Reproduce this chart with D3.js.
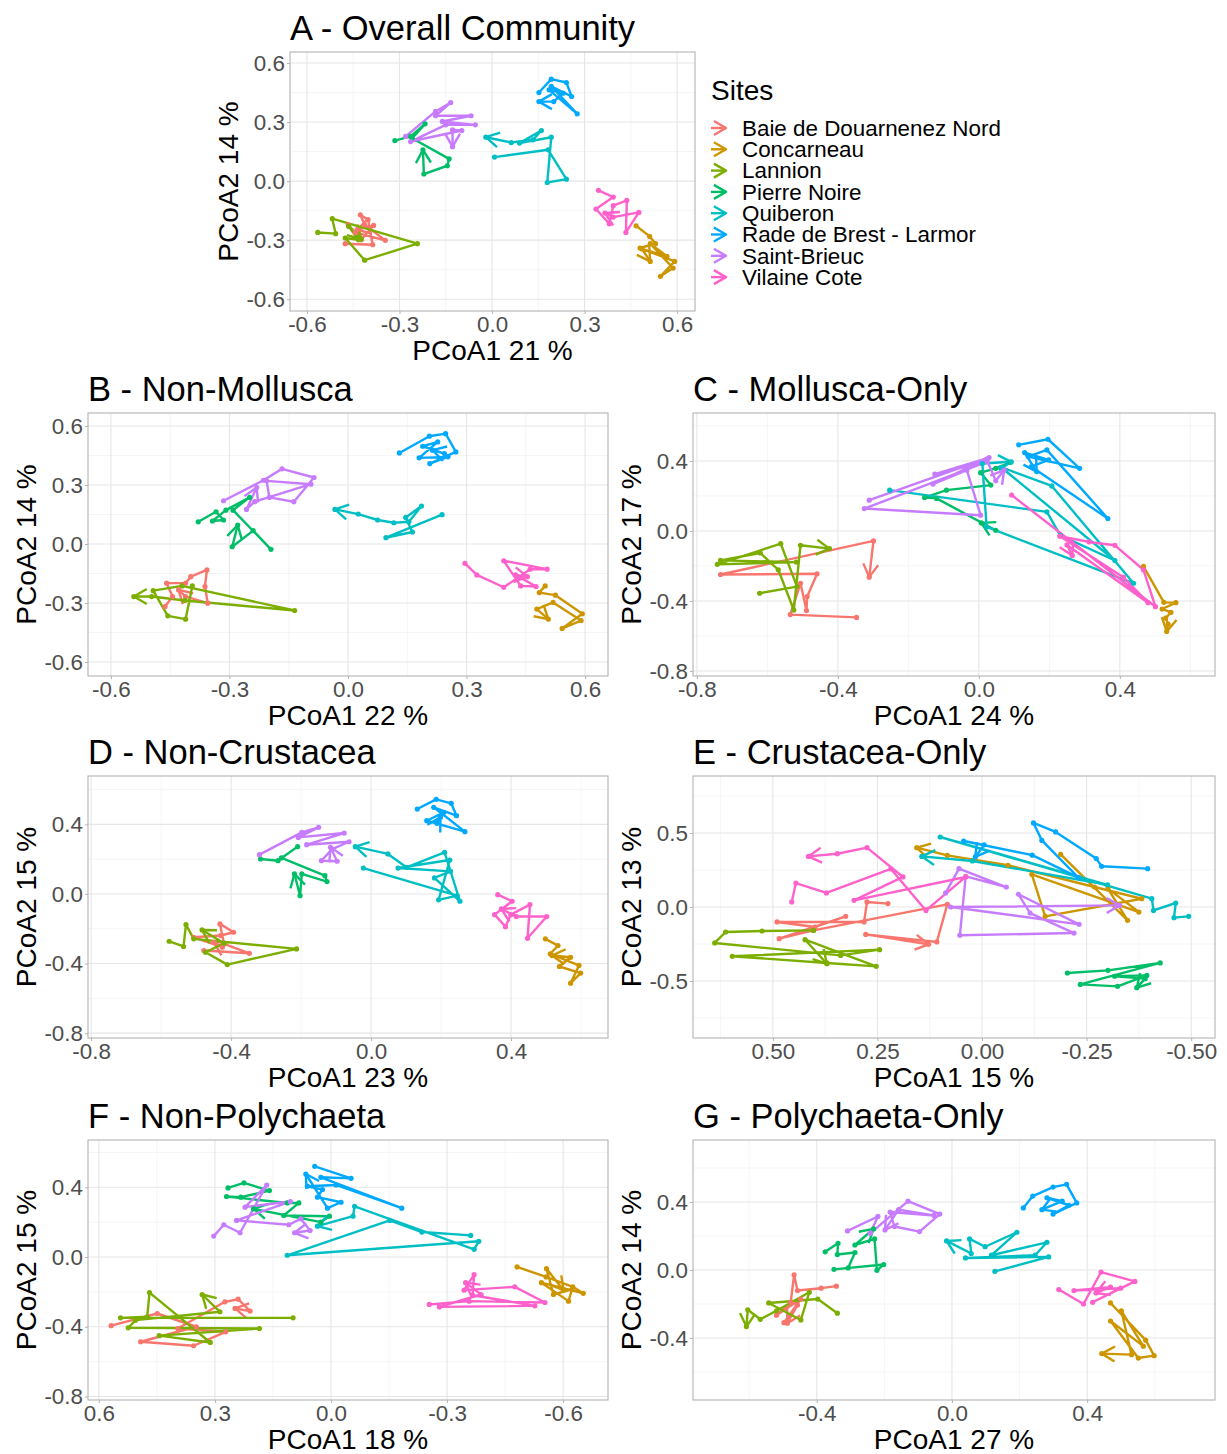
<!DOCTYPE html>
<html lang="en">
<head>
<meta charset="UTF-8">
<title>PCoA trajectories by site</title>
<script src="https://d3js.org/d3.v7.min.js"></script>
<style>
  body { margin: 0; background: #fff; }
  svg { display: block; font-family: "Liberation Sans", Arial, sans-serif; }
  .tick text { fill: #4D4D4D; font-size: 22.4px; font-family: "Liberation Sans", Arial, sans-serif; }
  .tick line { stroke: #B3B3B3; }
  .axis-title { fill: #000; font-size: 28px; }
  .panel-title { fill: #000; font-size: 34.5px; }
  .legend-text { fill: #000; font-size: 22.4px; }
</style>
</head>
<body>
<div id="chart"></div>
<script>
// sites and ggplot hue colours
const sites = ["Baie de Douarnenez Nord", "Concarneau", "Lannion", "Pierre Noire",
               "Quiberon", "Rade de Brest - Larmor", "Saint-Brieuc", "Vilaine Cote"];
const siteColors = ["#F8766D", "#CD9600", "#7CAE00", "#00BE67", "#00BFC4", "#00A9FF", "#C77CFF", "#FF61CC"];

const panelTitles = ["A - Overall Community", "B - Non-Mollusca", "C - Mollusca-Only", "D - Non-Crustacea",
                     "E - Crustacea-Only", "F - Non-Polychaeta", "G - Polychaeta-Only"];
const xLabels = ["PCoA1 21 %", "PCoA1 22 %", "PCoA1 24 %", "PCoA1 23 %", "PCoA1 15 %", "PCoA1 18 %", "PCoA1 27 %"];
const yLabels = ["PCoA2 14 %", "PCoA2 14 %", "PCoA2 17 %", "PCoA2 15 %", "PCoA2 13 %", "PCoA2 15 %", "PCoA2 14 %"];

// tick values per panel (A..G)
const xTickVals = [[-0.6, -0.3, 0, 0.3, 0.6], [-0.6, -0.3, 0, 0.3, 0.6], [-0.8, -0.4, 0, 0.4], [-0.8, -0.4, 0, 0.4],
                   [0.5, 0.25, 0, -0.25, -0.5], [0.6, 0.3, 0, -0.3, -0.6], [-0.4, 0, 0.4]];
const yTickVals = [[-0.6, -0.3, 0, 0.3, 0.6], [-0.6, -0.3, 0, 0.3, 0.6], [-0.8, -0.4, 0, 0.4], [-0.8, -0.4, 0, 0.4],
                   [-0.5, 0, 0.5], [-0.8, -0.4, 0, 0.4], [-0.4, 0, 0.4]];

// trajectories [PCoA1, PCoA2], one list per site in the order of `sites`
const trajA = [
  [[-0.476,-0.318],[-0.387,-0.323],[-0.402,-0.196],[-0.427,-0.171],[-0.413,-0.222],[-0.346,-0.301],[-0.443,-0.261],[-0.466,-0.222],[-0.424,-0.298],[-0.384,-0.225],[-0.437,-0.247]],
  [[0.467,-0.227],[0.511,-0.281],[0.530,-0.318],[0.480,-0.340],[0.592,-0.408],[0.546,-0.484],[0.587,-0.442],[0.513,-0.318],[0.567,-0.382],[0.486,-0.345],[0.513,-0.408]],
  [[-0.565,-0.261],[-0.507,-0.267],[-0.518,-0.191],[-0.242,-0.318],[-0.413,-0.402],[-0.476,-0.289],[-0.433,-0.298],[-0.465,-0.230],[-0.424,-0.294]],
  [[-0.315,0.206],[-0.264,0.227],[-0.217,0.291],[-0.259,0.218],[-0.139,0.113],[-0.145,0.078],[-0.221,0.036],[-0.224,0.159]],
  [[0.008,0.122],[0.182,0.159],[0.241,0.010],[0.179,-0.007],[0.192,0.223],[0.089,0.193],[0.160,0.257],[0.133,0.210],[0.062,0.196],[-0.020,0.223]],
  [[0.152,0.450],[0.192,0.518],[0.241,0.501],[0.258,0.430],[0.192,0.481],[0.276,0.342],[0.185,0.464],[0.230,0.447],[0.200,0.404],[0.152,0.404]],
  [[-0.280,0.227],[-0.183,0.354],[-0.134,0.399],[-0.183,0.332],[-0.068,0.332],[-0.161,0.303],[-0.054,0.286],[-0.150,0.286],[-0.264,0.201],[-0.098,0.257],[-0.128,0.260],[-0.128,0.175]],
  [[0.345,-0.047],[0.393,-0.081],[0.337,-0.142],[0.380,-0.217],[0.393,-0.125],[0.437,-0.098],[0.434,-0.261],[0.476,-0.159],[0.393,-0.183],[0.366,-0.162]]
];
const trajB = [
  [[-0.463,-0.318],[-0.444,-0.267],[-0.459,-0.199],[-0.411,-0.199],[-0.398,-0.166],[-0.357,-0.132],[-0.362,-0.216],[-0.355,-0.301],[-0.411,-0.267],[-0.429,-0.233]],
  [[0.499,-0.213],[0.484,-0.247],[0.525,-0.260],[0.593,-0.355],[0.542,-0.429],[0.590,-0.389],[0.519,-0.297],[0.478,-0.331],[0.507,-0.382]],
  [[-0.394,-0.213],[-0.411,-0.382],[-0.456,-0.365],[-0.493,-0.237],[-0.420,-0.213],[-0.135,-0.338],[-0.413,-0.287],[-0.497,-0.267],[-0.542,-0.267]],
  [[-0.379,0.113],[-0.334,0.164],[-0.315,0.122],[-0.343,0.117],[-0.309,0.172],[-0.249,0.237],[-0.291,0.172],[-0.195,-0.027],[-0.240,0.068],[-0.293,-0.014],[-0.279,0.096]],
  [[0.238,0.149],[0.096,0.032],[0.163,0.061],[0.146,0.135],[0.186,0.193],[0.154,0.113],[0.116,0.108],[0.075,0.122],[0.026,0.152],[-0.033,0.176]],
  [[0.130,0.463],[0.206,0.548],[0.247,0.561],[0.273,0.468],[0.207,0.409],[0.253,0.443],[0.180,0.438],[0.227,0.519],[0.189,0.497],[0.244,0.460],[0.214,0.477]],
  [[-0.315,0.220],[-0.214,0.324],[-0.167,0.382],[-0.086,0.338],[-0.137,0.215],[-0.199,0.237],[-0.206,0.321],[-0.094,0.304],[-0.236,0.215],[-0.257,0.176],[-0.231,0.287]],
  [[0.296,-0.098],[0.326,-0.157],[0.394,-0.220],[0.461,-0.128],[0.504,-0.128],[0.394,-0.085],[0.437,-0.213],[0.476,-0.216],[0.424,-0.157],[0.454,-0.166]]
];
const trajC = [
  [[-0.347,-0.494],[-0.535,-0.478],[-0.506,-0.299],[-0.489,-0.455],[-0.487,-0.375],[-0.459,-0.245],[-0.733,-0.249],[-0.299,-0.057],[-0.311,-0.264]],
  [[0.467,-0.203],[0.525,-0.408],[0.559,-0.410],[0.520,-0.446],[0.545,-0.465],[0.530,-0.498],[0.537,-0.532],[0.533,-0.574]],
  [[-0.622,-0.356],[-0.516,-0.318],[-0.562,-0.073],[-0.742,-0.191],[-0.518,-0.178],[-0.733,-0.168],[-0.620,-0.126],[-0.569,-0.222],[-0.525,-0.452],[-0.506,-0.082],[-0.424,-0.101]],
  [[0.090,0.392],[0.048,0.358],[0.005,0.333],[0.034,0.262],[-0.092,0.233],[-0.154,0.191],[-0.120,0.186],[0.048,0.004],[0.007,0.046]],
  [[-0.253,0.233],[0.193,0.109],[0.231,-0.025],[0.386,-0.169],[0.063,0.364],[0.207,0.257],[0.439,-0.299],[0.022,0.023],[0.010,0.385],[0.092,0.395]],
  [[0.113,0.492],[0.196,0.524],[0.286,0.358],[0.140,0.425],[0.193,0.463],[0.366,0.071],[0.149,0.367],[0.198,0.406],[0.130,0.448],[0.164,0.339]],
  [[-0.311,0.176],[0.029,0.419],[-0.125,0.325],[0.024,0.396],[-0.325,0.128],[0.005,0.090],[-0.034,0.348],[-0.130,0.268],[0.022,0.410],[0.048,0.287],[0.072,0.348]],
  [[0.093,0.205],[0.501,-0.433],[0.467,-0.222],[0.386,-0.082],[0.313,-0.063],[0.230,-0.030],[0.410,-0.264],[0.480,-0.410],[0.250,-0.080],[0.265,-0.140]]
];
const trajD = [
  [[-0.478,-0.325],[-0.348,-0.341],[-0.420,-0.287],[-0.432,-0.172],[-0.393,-0.220],[-0.430,-0.239],[-0.507,-0.249],[-0.425,-0.306],[-0.449,-0.278]],
  [[0.498,-0.258],[0.534,-0.297],[0.512,-0.344],[0.594,-0.411],[0.570,-0.513],[0.599,-0.455],[0.538,-0.417],[0.570,-0.364],[0.517,-0.354]],
  [[-0.577,-0.272],[-0.536,-0.302],[-0.529,-0.176],[-0.507,-0.258],[-0.213,-0.316],[-0.411,-0.406],[-0.473,-0.335],[-0.420,-0.283],[-0.483,-0.207]],
  [[-0.316,0.201],[-0.266,0.191],[-0.210,0.272],[-0.256,0.207],[-0.132,0.105],[-0.126,0.071],[-0.198,0.115],[-0.203,-0.010],[-0.219,0.115]],
  [[-0.022,0.149],[0.246,-0.010],[0.193,-0.034],[0.225,0.195],[0.077,0.149],[0.227,0.130],[0.181,0.092],[0.254,-0.042],[0.210,0.239],[0.101,0.153],[0.048,0.230],[-0.045,0.272]],
  [[0.132,0.488],[0.186,0.544],[0.229,0.521],[0.244,0.450],[0.179,0.498],[0.268,0.358],[0.159,0.421],[0.208,0.469],[0.188,0.406],[0.198,0.440]],
  [[-0.319,0.226],[-0.198,0.354],[-0.150,0.383],[-0.208,0.325],[-0.077,0.350],[-0.184,0.283],[-0.063,0.300],[-0.111,0.258],[-0.142,0.191],[-0.097,0.188],[-0.116,0.268]],
  [[0.362,-0.004],[0.403,-0.042],[0.353,-0.119],[0.384,-0.188],[0.399,-0.119],[0.454,-0.061],[0.447,-0.255],[0.502,-0.130],[0.415,-0.130],[0.372,-0.086]]
];
const trajE = [
  [[0.225,0.023],[0.275,0.034],[0.282,-0.101],[0.490,-0.101],[0.399,-0.135],[0.326,-0.063],[0.485,-0.214],[0.403,-0.158],[0.083,0.018],[0.108,-0.236],[0.278,-0.185],[0.128,-0.252]],
  [[-0.188,0.356],[-0.348,-0.090],[-0.301,0.124],[-0.375,-0.034],[-0.119,0.221],[-0.151,-0.063],[-0.382,0.056],[-0.269,0.135],[-0.062,0.282],[0.083,0.349],[0.156,0.401]],
  [[0.403,-0.158],[0.526,-0.162],[0.613,-0.169],[0.639,-0.243],[0.338,-0.327],[0.245,-0.288],[0.597,-0.333],[0.371,-0.378],[0.253,-0.401],[0.423,-0.221],[0.371,-0.383]],
  [[-0.204,-0.446],[-0.301,-0.428],[-0.426,-0.378],[-0.235,-0.523],[-0.324,-0.536],[-0.394,-0.462],[-0.317,-0.468],[-0.390,-0.484],[-0.370,-0.545]],
  [[-0.494,-0.063],[-0.459,-0.072],[-0.463,0.027],[-0.410,-0.023],[-0.406,0.056],[0.100,0.473],[-0.300,0.150],[0.023,0.311],[0.144,0.342]],
  [[-0.396,0.259],[-0.286,0.275],[-0.273,0.327],[-0.176,0.507],[-0.123,0.568],[-0.143,0.450],[-0.230,0.200],[-0.120,0.350],[0.044,0.446],[-0.005,0.420],[0.016,0.338]],
  [[0.087,0.095],[0.055,0.259],[-0.058,0.135],[0.039,0.207],[0.053,-0.191],[-0.220,-0.176],[-0.115,-0.041],[-0.087,0.086],[-0.232,-0.117],[0.075,0.000],[-0.329,0.011]],
  [[0.455,0.034],[0.445,0.162],[0.372,0.095],[0.218,0.257],[0.134,-0.023],[0.039,0.203],[0.306,0.045],[0.189,0.203],[0.275,0.401],[0.346,0.360],[0.415,0.342]]
];
const trajF = [
  [[0.568,-0.394],[0.449,-0.324],[0.348,-0.400],[0.492,-0.486],[0.355,-0.509],[0.272,-0.429],[0.396,-0.410],[0.274,-0.257],[0.240,-0.242],[0.209,-0.310],[0.248,-0.295]],
  [[-0.481,-0.057],[-0.556,-0.114],[-0.625,-0.171],[-0.652,-0.208],[-0.544,-0.147],[-0.614,-0.253],[-0.623,-0.185],[-0.575,-0.215],[-0.557,-0.067],[-0.601,-0.190]],
  [[0.098,-0.349],[0.544,-0.349],[0.475,-0.343],[0.469,-0.204],[0.312,-0.490],[0.444,-0.451],[0.185,-0.410],[0.524,-0.406],[0.505,-0.362],[0.287,-0.314],[0.333,-0.215]],
  [[0.266,0.396],[0.225,0.425],[0.159,0.381],[0.233,0.343],[0.270,0.347],[0.113,0.310],[0.083,0.310],[0.122,0.238],[0.004,0.234],[0.026,0.200],[0.200,0.276]],
  [[-0.361,0.124],[-0.235,0.143],[-0.152,0.210],[0.113,0.010],[-0.382,0.090],[-0.370,0.044],[-0.061,0.291],[-0.057,0.234],[0.035,0.177]],
  [[0.042,0.520],[-0.052,0.451],[0.026,0.457],[-0.183,0.280],[-0.013,0.413],[0.061,0.406],[0.022,0.387],[0.035,0.343],[-0.026,0.314],[0.009,0.280],[0.065,0.476]],
  [[0.303,0.120],[0.277,0.185],[0.235,0.139],[0.166,0.413],[0.222,0.286],[0.105,0.318],[0.244,0.210],[0.109,0.185],[0.078,0.219],[0.054,0.152],[0.094,0.139]],
  [[-0.254,-0.272],[-0.357,-0.253],[-0.553,-0.261],[-0.475,-0.171],[-0.344,-0.190],[-0.370,-0.101],[-0.366,-0.219],[-0.527,-0.280],[-0.280,-0.286],[-0.388,-0.215],[-0.348,-0.147]]
];
const trajG = [
  [[-0.342,-0.095],[-0.387,-0.107],[-0.457,-0.121],[-0.467,-0.028],[-0.477,-0.190],[-0.519,-0.266],[-0.447,-0.171],[-0.497,-0.310],[-0.457,-0.206],[-0.487,-0.313]],
  [[0.469,-0.194],[0.573,-0.413],[0.598,-0.504],[0.551,-0.518],[0.469,-0.300],[0.566,-0.448],[0.501,-0.240],[0.531,-0.498],[0.443,-0.492]],
  [[-0.339,-0.254],[-0.397,-0.171],[-0.542,-0.194],[-0.447,-0.294],[-0.422,-0.131],[-0.519,-0.240],[-0.567,-0.290],[-0.604,-0.234],[-0.608,-0.333]],
  [[-0.375,0.107],[-0.337,0.157],[-0.339,0.091],[-0.287,0.103],[-0.307,0.012],[-0.349,0.004],[-0.202,0.032],[-0.222,-0.002],[-0.229,0.183],[-0.287,0.147],[-0.232,0.242]],
  [[0.127,-0.008],[0.286,0.077],[0.040,0.071],[0.246,0.087],[0.281,0.163],[0.117,0.087],[0.192,0.222],[0.098,0.137],[0.052,0.183],[0.057,0.097],[-0.016,0.171]],
  [[0.211,0.365],[0.239,0.435],[0.299,0.488],[0.339,0.504],[0.369,0.395],[0.299,0.329],[0.346,0.381],[0.281,0.425],[0.326,0.405],[0.266,0.355]],
  [[-0.309,0.230],[-0.219,0.315],[-0.242,0.216],[-0.130,0.405],[-0.036,0.329],[-0.096,0.226],[-0.170,0.256],[-0.183,0.341],[-0.053,0.321],[-0.158,0.355],[-0.198,0.236]],
  [[0.316,-0.115],[0.389,-0.200],[0.441,-0.012],[0.541,-0.067],[0.416,-0.190],[0.499,-0.107],[0.361,-0.121],[0.469,-0.101],[0.426,-0.135]]
];

// layout: plot box [left, top, right, bottom] in px and axis limits
const panels = [
  { box: [290, 52, 695, 311],    xDomain: [-0.655, 0.658], yDomain: [-0.66, 0.656],  data: trajA, xFmt: 1 },
  { box: [88, 413, 608, 676],    xDomain: [-0.658, 0.658], yDomain: [-0.671, 0.666], data: trajB, xFmt: 1 },
  { box: [693, 413, 1215, 676],  xDomain: [-0.811, 0.67],  yDomain: [-0.829, 0.674], data: trajC, xFmt: 1 },
  { box: [88, 776, 608, 1038],   xDomain: [-0.809, 0.677], yDomain: [-0.828, 0.678], data: trajD, xFmt: 1 },
  { box: [693, 776, 1215, 1038], xDomain: [0.691, -0.557], yDomain: [-0.885, 0.885], data: trajE, xFmt: 2 },
  { box: [88, 1140, 608, 1400],  xDomain: [0.628, -0.716], yDomain: [-0.82, 0.671],  data: trajF, xFmt: 1 },
  { box: [693, 1140, 1215, 1400],xDomain: [-0.766, 0.778], yDomain: [-0.765, 0.765], data: trajG, xFmt: 1 }
];

const W = 1227, H = 1454;
const LW = 2.4;
const svg = d3.select("#chart").append("svg").attr("width", W).attr("height", H);
svg.append("rect").attr("width", W).attr("height", H).attr("fill", "#fff");

function minorTicks(major, dom) {
  const m = major.slice().sort((a, b) => a - b);
  const step = m[1] - m[0];
  const lo = Math.min(...dom), hi = Math.max(...dom);
  const out = [];
  for (let v = m[0] - step / 2; v <= m[m.length - 1] + step / 2 + 1e-9; v += step) {
    if (v >= lo && v <= hi) out.push(v);
  }
  return out;
}

function arrowHead(g, p1, p2, color, len, ang) {
  const a = Math.atan2(p2[1] - p1[1], p2[0] - p1[0]);
  const pts = [
    [p2[0] - len * Math.cos(a - ang), p2[1] - len * Math.sin(a - ang)],
    p2,
    [p2[0] - len * Math.cos(a + ang), p2[1] - len * Math.sin(a + ang)]
  ];
  g.append("path").attr("d", d3.line()(pts))
    .attr("fill", "none").attr("stroke", color).attr("stroke-width", LW)
    .attr("stroke-linejoin", "round");
}

panels.forEach((p, i) => {
  const [x0, y0, x1, y1] = p.box;
  const x = d3.scaleLinear().domain(p.xDomain).range([x0, x1]);
  const y = d3.scaleLinear().domain(p.yDomain).range([y1, y0]);
  const g = svg.append("g");

  // grid
  const grid = g.append("g");
  minorTicks(xTickVals[i], p.xDomain).forEach(v => grid.append("line")
    .attr("x1", x(v)).attr("x2", x(v)).attr("y1", y0).attr("y2", y1)
    .attr("stroke", "#F3F3F3").attr("stroke-width", 0.8));
  minorTicks(yTickVals[i], p.yDomain).forEach(v => grid.append("line")
    .attr("y1", y(v)).attr("y2", y(v)).attr("x1", x0).attr("x2", x1)
    .attr("stroke", "#F3F3F3").attr("stroke-width", 0.8));
  xTickVals[i].forEach(v => grid.append("line")
    .attr("x1", x(v)).attr("x2", x(v)).attr("y1", y0).attr("y2", y1)
    .attr("stroke", "#E6E6E6").attr("stroke-width", 1.1));
  yTickVals[i].forEach(v => grid.append("line")
    .attr("y1", y(v)).attr("y2", y(v)).attr("x1", x0).attr("x2", x1)
    .attr("stroke", "#E6E6E6").attr("stroke-width", 1.1));

  // clip to panel
  const clipId = "clip" + i;
  svg.append("clipPath").attr("id", clipId).append("rect")
    .attr("x", x0).attr("y", y0).attr("width", x1 - x0).attr("height", y1 - y0);
  const plot = g.append("g").attr("clip-path", `url(#${clipId})`);

  const line = d3.line().x(d => x(d[0])).y(d => y(d[1]));
  p.data.forEach((traj, s) => {
    plot.append("path").attr("d", line(traj))
      .attr("fill", "none").attr("stroke", siteColors[s]).attr("stroke-width", LW)
      .attr("stroke-linejoin", "round");
    const n = traj.length;
    arrowHead(plot, [x(traj[n - 2][0]), y(traj[n - 2][1])], [x(traj[n - 1][0]), y(traj[n - 1][1])],
      siteColors[s], 15, Math.PI / 6);
  });
  p.data.forEach((traj, s) => {
    plot.selectAll(null).data(traj).join("circle")
      .attr("cx", d => x(d[0])).attr("cy", d => y(d[1])).attr("r", 2.6)
      .attr("fill", siteColors[s]);
  });

  // border
  g.append("rect").attr("x", x0).attr("y", y0).attr("width", x1 - x0).attr("height", y1 - y0)
    .attr("fill", "none").attr("stroke", "#B3B3B3").attr("stroke-width", 1.1);

  // axes
  const xAxis = g.append("g").attr("transform", `translate(0,${y1})`)
    .call(d3.axisBottom(x).tickValues(xTickVals[i]).tickSize(3).tickPadding(2)
      .tickFormat(d => d.toFixed(p.xFmt)));
  const yAxis = g.append("g").attr("transform", `translate(${x0},0)`)
    .call(d3.axisLeft(y).tickValues(yTickVals[i]).tickSize(3).tickPadding(2)
      .tickFormat(d => d.toFixed(1)));
  [xAxis, yAxis].forEach(ax => {
    ax.select(".domain").remove();
    ax.attr("font-family", null).attr("font-size", null);
  });

  // titles
  g.append("text").attr("class", "panel-title").attr("x", x0).attr("y", y0 - 12).text(panelTitles[i]);
  g.append("text").attr("class", "axis-title").attr("text-anchor", "middle")
    .attr("x", (x0 + x1) / 2).attr("y", y1 + 49).text(xLabels[i]);
  g.append("text").attr("class", "axis-title").attr("text-anchor", "middle")
    .attr("transform", `translate(${x0 - 62},${(y0 + y1) / 2}) rotate(-90)`)
    .attr("dy", "0.35em").text(yLabels[i]);
});

// legend
const leg = svg.append("g");
leg.append("text").attr("class", "axis-title").attr("x", 711).attr("y", 100).text("Sites");
sites.forEach((s, i) => {
  const cy = 128 + i * 21.3;
  leg.append("line").attr("x1", 711).attr("x2", 726).attr("y1", cy).attr("y2", cy)
    .attr("stroke", siteColors[i]).attr("stroke-width", LW);
  arrowHead(leg, [711, cy], [726, cy], siteColors[i], 14, Math.PI / 6);
  leg.append("text").attr("class", "legend-text").attr("x", 742).attr("y", cy)
    .attr("dy", "0.35em").text(s);
});
</script>
</body>
</html>
